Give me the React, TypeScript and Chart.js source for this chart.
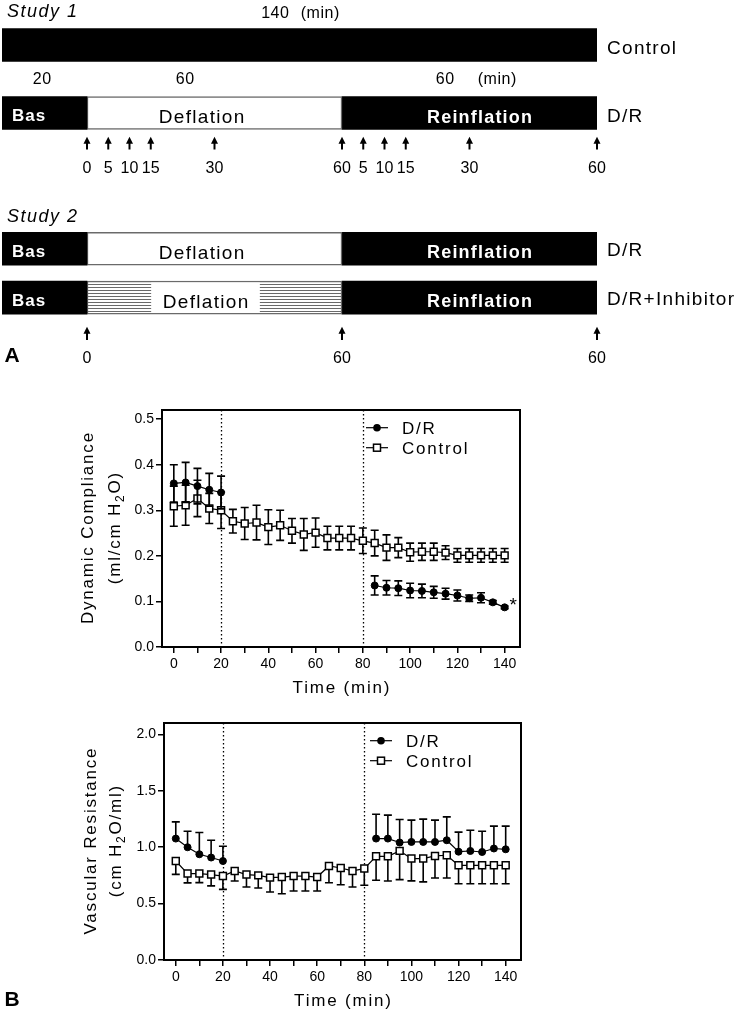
import React, { useEffect, useRef } from 'react';
import { Chart, registerables } from 'chart.js';

Chart.register(...registerables);

const FONT = "'Liberation Sans', Arial, Helvetica, sans-serif";
Chart.defaults.font.family = FONT;
Chart.defaults.color = '#000';

// ---------- Panel A : protocol ----------
const phaseNames = ['Bas', 'Deflation', 'Reinflation'];
const phaseDurations = [20, 60, 60]; // min
const study1Rows = ['Control', 'D/R'];
const study2Rows = ['D/R', 'D/R+Inhibitor'];
const study1Sampling = [0, 5, 10, 15, 30, 60];
const study2Sampling = [0, 60];

// ---------- Panel B : time course ----------
const timePoints = [0, 5, 10, 15, 20, 25, 30, 35, 40, 45, 50, 55, 60, 65, 70, 75, 80, 85, 90, 95, 100, 105, 110, 115, 120, 125, 130, 135, 140];
const timeTicks = [0, 10, 20, 30, 40, 50, 60, 70, 80, 90, 100, 110, 120, 130, 140];
const complianceTicks = [0, 0.1, 0.2, 0.3, 0.4, 0.5];
const resistanceTicks = [0, 0.5, 1.0, 1.5, 2.0];
const seriesNames = ['D/R', 'Control'];

const complianceDR = [0.359, 0.361, 0.353, 0.345, 0.339, null, null, null, null, null, null, null, null, null, null, null, null, 0.135, 0.130, 0.129, 0.124, 0.123, 0.120, 0.117, 0.113, 0.107, 0.108, 0.098, 0.087];
const complianceDRErr = [0.041, 0.044, 0.039, 0.036, 0.036, null, null, null, null, null, null, null, null, null, null, null, null, 0.021, 0.016, 0.016, 0.016, 0.015, 0.013, 0.012, 0.012, 0.007, 0.011, 0.004, 0.003];
const complianceControl = [0.309, 0.311, 0.326, 0.304, 0.300, 0.276, 0.271, 0.273, 0.263, 0.267, 0.255, 0.247, 0.251, 0.239, 0.239, 0.239, 0.233, 0.228, 0.218, 0.218, 0.208, 0.209, 0.209, 0.207, 0.201, 0.201, 0.201, 0.201, 0.201];
const complianceControlErr = [0.044, 0.044, 0.040, 0.033, 0.040, 0.026, 0.035, 0.038, 0.038, 0.033, 0.027, 0.035, 0.032, 0.026, 0.026, 0.026, 0.028, 0.028, 0.028, 0.022, 0.020, 0.019, 0.019, 0.015, 0.015, 0.015, 0.015, 0.015, 0.015];

const resistanceDR = [1.076, 0.999, 0.937, 0.908, 0.877, null, null, null, null, null, null, null, null, null, null, null, null, 1.076, 1.076, 1.041, 1.046, 1.046, 1.046, 1.061, 0.960, 0.966, 0.957, 0.988, 0.981];
const resistanceDRErr = [0.148, 0.142, 0.193, 0.153, 0.131, null, null, null, null, null, null, null, null, null, null, null, null, 0.216, 0.208, 0.204, 0.193, 0.202, 0.193, 0.207, 0.173, 0.184, 0.184, 0.198, 0.205];
const resistanceControl = [0.877, 0.766, 0.766, 0.757, 0.744, 0.789, 0.757, 0.750, 0.730, 0.735, 0.744, 0.744, 0.735, 0.833, 0.815, 0.789, 0.810, 0.919, 0.919, 0.967, 0.899, 0.899, 0.922, 0.928, 0.839, 0.839, 0.839, 0.839, 0.839];
const resistanceControlErr = [0.118, 0.083, 0.080, 0.100, 0.118, 0.089, 0.110, 0.112, 0.127, 0.148, 0.133, 0.133, 0.124, 0.148, 0.148, 0.142, 0.148, 0.213, 0.219, 0.255, 0.198, 0.207, 0.195, 0.201, 0.163, 0.163, 0.163, 0.163, 0.163];

// derived phase bounds
const phaseStarts = phaseDurations.map((_, i) => phaseDurations.slice(0, i).reduce((a, b) => a + b, 0));
const phaseEnds = phaseStarts.map((s, i) => s + phaseDurations[i]);
const totalDuration = phaseEnds[phaseEnds.length - 1];

type TOpts = { align?: 'left' | 'center' | 'right'; color?: string; spacing?: number };

function drawText(ctx: any, s: string, x: number, y: number, font: string, o: TOpts = {}) {
  ctx.save();
  ctx.font = font;
  ctx.fillStyle = o.color ?? '#000';
  ctx.textBaseline = 'alphabetic';
  const sp = o.spacing ?? 0;
  ctx.letterSpacing = sp + 'px';
  ctx.textAlign = 'left';
  const w = ctx.measureText(s).width - sp;
  let xx = x;
  if (o.align === 'center') xx = x - w / 2;
  else if (o.align === 'right') xx = x - w;
  ctx.fillText(s, xx, y);
  ctx.restore();
  return w;
}

function drawArrow(ctx: any, x: number, yTip: number, yEnd: number) {
  ctx.save();
  ctx.fillStyle = '#000';
  ctx.strokeStyle = '#000';
  ctx.lineWidth = 2;
  ctx.beginPath();
  ctx.moveTo(x, yTip + 5);
  ctx.lineTo(x, yEnd);
  ctx.stroke();
  ctx.beginPath();
  ctx.moveTo(x, yTip);
  ctx.lineTo(x - 3.5, yTip + 7);
  ctx.lineTo(x + 3.5, yTip + 7);
  ctx.closePath();
  ctx.fill();
  ctx.restore();
}

function drawBarTexts(chart: any, deflationDx: number[]) {
  const ctx = chart.ctx;
  chart.data.datasets.forEach((ds: any, di: number) => {
    const meta = chart.getDatasetMeta(di);
    meta.data.forEach((el: any, j: number) => {
      if (ds.data[j] == null) return;
      const left = Math.min(el.x, el.base);
      const right = Math.max(el.x, el.base);
      const cy = el.y;
      const h = el.height;
      const mid = (left + right) / 2;
      if (ds.label === 'Bas') {
        drawText(ctx, 'Bas', left + 10, cy + 8, `bold 17px ${FONT}`, { color: '#fff', spacing: 1 });
      } else if (ds.label === 'Deflation') {
        const cx = mid + deflationDx[j];
        const font = `19px ${FONT}`;
        if (ds.hatchRows && ds.hatchRows.includes(j)) {
          ctx.save();
          ctx.font = font;
          ctx.letterSpacing = '1.3px';
          const w = ctx.measureText('Deflation').width + 22;
          ctx.fillStyle = '#fff';
          ctx.fillRect(cx - w / 2, cy - h / 2 + 1.5, w, h - 3);
          ctx.restore();
        }
        drawText(ctx, 'Deflation', cx, cy + 10, font, { align: 'center', spacing: 1.3 });
      } else if (ds.label === 'Reinflation') {
        drawText(ctx, 'Reinflation', mid + 10, cy + 9.5, `bold 18px ${FONT}`, { align: 'center', color: '#fff', spacing: 1.2 });
      }
    });
  });
}

function protocolChart(canvas: HTMLCanvasElement, rows: string[], datasets: any[], padTop: number, padBottom: number, labelOffset: number, deflationDx: number[], draw: (c: any) => void) {
  return new Chart(canvas, {
    type: 'bar',
    data: { labels: rows, datasets },
    options: {
      indexAxis: 'y',
      responsive: false,
      animation: false,
      events: [],
      layout: { padding: { left: 2, right: 0, top: padTop, bottom: padBottom } },
      plugins: { legend: { display: false }, tooltip: { enabled: false } },
      scales: {
        x: { type: 'linear', min: 0, max: totalDuration, display: false },
        y: {
          type: 'category',
          position: 'right',
          grid: { display: false, drawTicks: false },
          border: { display: false },
          ticks: { color: '#000', font: { size: 19 }, padding: 10, labelOffset },
          afterFit: (s: any) => {
            s.width = 139;
            s.paddingTop = 0;
            s.paddingBottom = 0;
          },
        },
      },
    } as any,
    plugins: [
      {
        id: 'protocol',
        beforeDraw: (c: any) => { c.ctx.letterSpacing = '1.3px'; },
        beforeDatasetsDraw: (c: any) => { c.ctx.letterSpacing = '0px'; },
        afterDatasetsDraw: (c: any) => drawBarTexts(c, deflationDx),
        afterDraw: (c: any) => draw(c),
      },
    ],
  });
}

function drawRotatedRich(ctx: any, parts: { t: string; sub?: boolean }[], baseX: number, cy: number, size: number, spacing: number) {
  ctx.save();
  ctx.translate(baseX, cy);
  ctx.rotate(-Math.PI / 2);
  ctx.fillStyle = '#000';
  ctx.textAlign = 'left';
  ctx.textBaseline = 'alphabetic';
  ctx.letterSpacing = spacing + 'px';
  const fontFor = (p: any) => (p.sub ? `${Math.round(size * 0.68)}px ${FONT}` : `${size}px ${FONT}`);
  const widths = parts.map((p) => { ctx.font = fontFor(p); return ctx.measureText(p.t).width; });
  const total = widths.reduce((a, b) => a + b, 0) - spacing;
  let u = -total / 2;
  parts.forEach((p, i) => {
    ctx.font = fontFor(p);
    ctx.fillText(p.t, u, p.sub ? 4 : 0);
    u += widths[i];
  });
  ctx.restore();
}

type DataCfg = {
  height: number;
  area: { left: number; right: number; top: number; bottom: number };
  yMax: number;
  yTicks: number[];
  dr: (number | null)[];
  drErr: (number | null)[];
  drDir: string;
  ctl: number[];
  ctlErr: number[];
  ctlDir: string;
  title1: { t: string; sub?: boolean }[];
  title2: { t: string; sub?: boolean }[];
  titleX: [number, number];
  asterisk?: boolean;
  panelLabel?: string;
  panelLabelY?: number;
  legendDx: number;
};

function seriesDataset(label: string, values: (number | null)[], errors: (number | null)[], dir: string, filled: boolean) {
  return {
    label,
    data: timePoints.map((t, i) => ({ x: t, y: values[i] })),
    errors,
    errorDir: dir,
    borderColor: '#000',
    borderWidth: 1.2,
    fill: false,
    tension: 0,
    spanGaps: false,
    pointStyle: filled ? 'circle' : 'rect',
    pointRadius: filled ? 3.5 : 4.9,
    pointBackgroundColor: filled ? '#000' : '#fff',
    pointBorderColor: '#000',
    pointBorderWidth: filled ? 1 : 1.5,
  };
}

function dataChart(canvas: HTMLCanvasElement, cfg: DataCfg) {
  const { area } = cfg;
  const tickGrid = { drawOnChartArea: false, drawTicks: true, tickLength: 6, color: '#000', lineWidth: 1.5 };
  return new Chart(canvas, {
    type: 'line',
    data: {
      datasets: [
        seriesDataset(seriesNames[0], cfg.dr, cfg.drErr, cfg.drDir, true),
        seriesDataset(seriesNames[1], cfg.ctl, cfg.ctlErr, cfg.ctlDir, false),
      ],
    },
    options: {
      responsive: false,
      animation: false,
      events: [],
      layout: { padding: { left: 0, top: area.top, right: 736 - area.right, bottom: 0 } },
      plugins: { legend: { display: false }, tooltip: { enabled: false } },
      scales: {
        x: {
          type: 'linear',
          min: -5,
          max: 146.5,
          afterBuildTicks: (s: any) => { s.ticks = timeTicks.map((v) => ({ value: v })); },
          afterFit: (s: any) => { s.height = cfg.height - area.bottom; },
          grid: tickGrid,
          border: { display: false },
          ticks: {
            autoSkip: false,
            maxRotation: 0,
            padding: 3,
            font: { size: 14 },
            color: '#000',
            callback: (v: any) => (Number(v) % 20 === 0 ? String(v) : ''),
          },
        },
        y: {
          type: 'linear',
          min: 0,
          max: cfg.yMax,
          afterBuildTicks: (s: any) => { s.ticks = cfg.yTicks.map((v) => ({ value: v })); },
          afterFit: (s: any) => { s.width = area.left; },
          grid: tickGrid,
          border: { display: false },
          ticks: { padding: 2, font: { size: 14 }, color: '#000', callback: (v: any) => Number(v).toFixed(1) },
        },
      },
    } as any,
    plugins: [
      {
        id: 'errorBars',
        beforeDatasetDraw: (chart: any, args: any) => {
          const ds = chart.data.datasets[args.index];
          const ys = chart.scales.y;
          const ctx = chart.ctx;
          ctx.save();
          ctx.strokeStyle = '#000';
          ctx.lineWidth = 1.6;
          args.meta.data.forEach((pt: any, i: number) => {
            const v = ds.data[i].y;
            const e = ds.errors[i];
            if (v == null || e == null) return;
            const x = pt.x;
            const ends: number[] = [];
            if (ds.errorDir !== 'down') ends.push(ys.getPixelForValue(v + e));
            if (ds.errorDir !== 'up') ends.push(ys.getPixelForValue(v - e));
            ends.forEach((ye) => {
              ctx.beginPath();
              ctx.moveTo(x, pt.y);
              ctx.lineTo(x, ye);
              ctx.moveTo(x - 4, ye);
              ctx.lineTo(x + 4, ye);
              ctx.stroke();
            });
          });
          ctx.restore();
        },
      },
      {
        id: 'guides',
        beforeDatasetsDraw: (chart: any) => {
          const ctx = chart.ctx;
          const xs = chart.scales.x;
          const { top, bottom } = chart.chartArea;
          [phaseStarts[1], phaseStarts[2]].forEach((t) => {
            const x = Math.round(xs.getPixelForValue(t)) + 0.5;
            ctx.save();
            ctx.strokeStyle = '#000';
            ctx.lineWidth = 1.3;
            ctx.setLineDash([1.4, 2.6]);
            ctx.beginPath();
            ctx.moveTo(x, top);
            ctx.lineTo(x, bottom);
            ctx.stroke();
            ctx.restore();
          });
        },
        afterDatasetsDraw: (chart: any) => {
          const ctx = chart.ctx;
          const { left, right, top, bottom } = chart.chartArea;
          ctx.save();
          ctx.strokeStyle = '#000';
          ctx.lineWidth = 2;
          ctx.strokeRect(left, top, right - left, bottom - top);
          ctx.restore();
        },
      },
      {
        id: 'decor',
        afterDraw: (chart: any) => {
          const ctx = chart.ctx;
          const { left, right, top, bottom } = chart.chartArea;
          const cy = (top + bottom) / 2;
          drawRotatedRich(ctx, cfg.title1, cfg.titleX[0], cy, 17, 1.8);
          drawRotatedRich(ctx, cfg.title2, cfg.titleX[1], cy, 17, 1.8);
          drawText(ctx, 'Time (min)', (left + right) / 2, bottom + 46, `17px ${FONT}`, { align: 'center', spacing: 1.8 });
          // legend
          chart.data.datasets.forEach((ds: any, i: number) => {
            const y = top + 17.7 + 20 * i;
            const x0 = right - cfg.legendDx;
            const xm = x0 + 11;
            ctx.save();
            ctx.strokeStyle = '#000';
            ctx.lineWidth = 1.2;
            ctx.beginPath();
            ctx.moveTo(x0, y);
            ctx.lineTo(x0 + 22, y);
            ctx.stroke();
            if (ds.pointStyle === 'circle') {
              ctx.fillStyle = '#000';
              ctx.beginPath();
              ctx.arc(xm, y, 3.8, 0, Math.PI * 2);
              ctx.fill();
            } else {
              ctx.fillStyle = '#fff';
              ctx.lineWidth = 1.5;
              ctx.fillRect(xm - 3.5, y - 3.5, 7, 7);
              ctx.strokeRect(xm - 3.5, y - 3.5, 7, 7);
            }
            ctx.restore();
            drawText(ctx, ds.label, x0 + 36, y + 6, `17px ${FONT}`, { spacing: 1.8 });
          });
          if (cfg.asterisk) {
            const meta = chart.getDatasetMeta(0);
            const last = meta.data[meta.data.length - 1];
            drawText(ctx, '*', last.x + 8.5, last.y + 4, `19px ${FONT}`, { align: 'center' });
          }
          if (cfg.panelLabel) {
            drawText(ctx, cfg.panelLabel, 4.5, cfg.panelLabelY ?? 0, `bold 21px ${FONT}`);
          }
        },
      },
    ],
  });
}

export default function App() {
  const s1 = useRef<HTMLCanvasElement>(null);
  const s2 = useRef<HTMLCanvasElement>(null);
  const c1 = useRef<HTMLCanvasElement>(null);
  const c2 = useRef<HTMLCanvasElement>(null);

  useEffect(() => {
    const charts: any[] = [];

    // hatch pattern for inhibitor deflation
    const pc = document.createElement('canvas');
    pc.width = 8;
    pc.height = 3;
    const pctx = pc.getContext('2d')!;
    pctx.fillStyle = '#fff';
    pctx.fillRect(0, 0, 8, 3);
    pctx.fillStyle = '#6a6a6a';
    pctx.fillRect(0, 0, 8, 1);
    const hatch = s2.current!.getContext('2d')!.createPattern(pc, 'repeat');

    const barCommon = { grouped: false, barThickness: 33, borderSkipped: false, borderColor: '#6a6a6a' };

    const study1Datasets = [
      { label: study1Rows[0], data: [[0, totalDuration], null], backgroundColor: '#000', borderWidth: 0, ...barCommon },
      ...phaseNames.map((p, i) => ({
        label: p,
        data: [null, [phaseStarts[i], phaseEnds[i]]],
        backgroundColor: p === 'Deflation' ? '#fff' : '#000',
        borderWidth: p === 'Deflation' ? 1.5 : 0,
        ...barCommon,
      })),
    ];

    const study2Datasets = phaseNames.map((p, i) => ({
      label: p,
      data: study2Rows.map(() => [phaseStarts[i], phaseEnds[i]]),
      backgroundColor: p === 'Deflation' ? ['#fff', hatch] : '#000',
      borderWidth: p === 'Deflation' ? 1.5 : 0,
      hatchRows: p === 'Deflation' ? [1] : [],
      ...barCommon,
    }));

    charts.push(
      protocolChart(s1.current!, study1Rows, study1Datasets, 11, 38, 4, [0, -13], (c: any) => {
        const ctx = c.ctx;
        const xs = c.scales.x;
        drawText(ctx, 'Study 1', 7, 17, `italic 18px ${FONT}`, { spacing: 1.5 });
        const midAll = xs.getPixelForValue(totalDuration / 2);
        drawText(ctx, String(totalDuration), midAll - 24.5, 17.5, `16px ${FONT}`, { align: 'center', spacing: 0.5 });
        drawText(ctx, '(min)', midAll + 20.5, 17.5, `16px ${FONT}`, { align: 'center', spacing: 0.5 });
        const durDx = [-2.5, -29.5, -24.5];
        phaseDurations.forEach((d, i) => {
          const xm = xs.getPixelForValue((phaseStarts[i] + phaseEnds[i]) / 2);
          drawText(ctx, String(d), xm + durDx[i], 84, `16px ${FONT}`, { align: 'center', spacing: 0.5 });
        });
        const xmLast = xs.getPixelForValue((phaseStarts[2] + phaseEnds[2]) / 2);
        drawText(ctx, '(min)', xmLast + 27.5, 84, `16px ${FONT}`, { align: 'center', spacing: 0.5 });
        const marks = [
          ...study1Sampling.map((t) => ({ at: phaseStarts[1] + t, label: t })),
          ...study1Sampling.filter((t) => t > 0).map((t) => ({ at: phaseStarts[2] + t, label: t })),
        ];
        marks.forEach((m) => {
          const x = xs.getPixelForValue(m.at);
          drawArrow(ctx, x, 136.7, 149.5);
          drawText(ctx, String(m.label), x, 173, `16px ${FONT}`, { align: 'center' });
        });
      })
    );

    charts.push(
      protocolChart(s2.current!, study2Rows, study2Datasets, 39.3, 58, 2.5, [-13, -9], (c: any) => {
        const ctx = c.ctx;
        const xs = c.scales.x;
        drawText(ctx, 'Study 2', 7, 36.7, `italic 18px ${FONT}`, { spacing: 1.5 });
        const marks = [
          ...study2Sampling.map((t) => ({ at: phaseStarts[1] + t, label: t })),
          ...study2Sampling.filter((t) => t > 0).map((t) => ({ at: phaseStarts[2] + t, label: t })),
        ];
        marks.forEach((m) => {
          const x = xs.getPixelForValue(m.at);
          drawArrow(ctx, x, 141.7, 155);
          drawText(ctx, String(m.label), x, 178.3, `16px ${FONT}`, { align: 'center' });
        });
        drawText(ctx, 'A', 4.5, 176.7, `bold 21px ${FONT}`);
      })
    );

    charts.push(
      dataChart(c1.current!, {
        height: 310,
        area: { left: 162, right: 520, top: 15, bottom: 252 },
        yMax: 0.52,
        yTicks: complianceTicks,
        dr: complianceDR,
        drErr: complianceDRErr,
        drDir: 'both',
        ctl: complianceControl,
        ctlErr: complianceControlErr,
        ctlDir: 'both',
        title1: [{ t: 'Dynamic Compliance' }],
        title2: [{ t: '(ml/cm H' }, { t: '2', sub: true }, { t: 'O)' }],
        titleX: [92.5, 119.5],
        asterisk: true,
        legendDx: 154,
      })
    );

    charts.push(
      dataChart(c2.current!, {
        height: 304,
        area: { left: 164, right: 521, top: 13, bottom: 250 },
        yMax: 2.1,
        yTicks: resistanceTicks,
        dr: resistanceDR,
        drErr: resistanceDRErr,
        drDir: 'up',
        ctl: resistanceControl,
        ctlErr: resistanceControlErr,
        ctlDir: 'down',
        title1: [{ t: 'Vascular Resistance' }],
        title2: [{ t: '(cm H' }, { t: '2', sub: true }, { t: 'O/ml)' }],
        titleX: [95.5, 121],
        panelLabel: 'B',
        panelLabelY: 295.7,
        legendDx: 151,
      })
    );

    return () => charts.forEach((c) => c.destroy());
  }, []);

  const pos = (top: number): React.CSSProperties => ({ position: 'absolute', left: 0, top });

  return (
    <div style={{ position: 'absolute', left: 0, top: 0, width: 736, height: 1014, background: '#fff', overflow: 'hidden' }}>
      <canvas ref={s1} width={736} height={185} style={pos(0)} />
      <canvas ref={s2} width={736} height={195} style={pos(185)} />
      <canvas ref={c1} width={736} height={310} style={pos(395)} />
      <canvas ref={c2} width={736} height={304} style={pos(710)} />
    </div>
  );
}
